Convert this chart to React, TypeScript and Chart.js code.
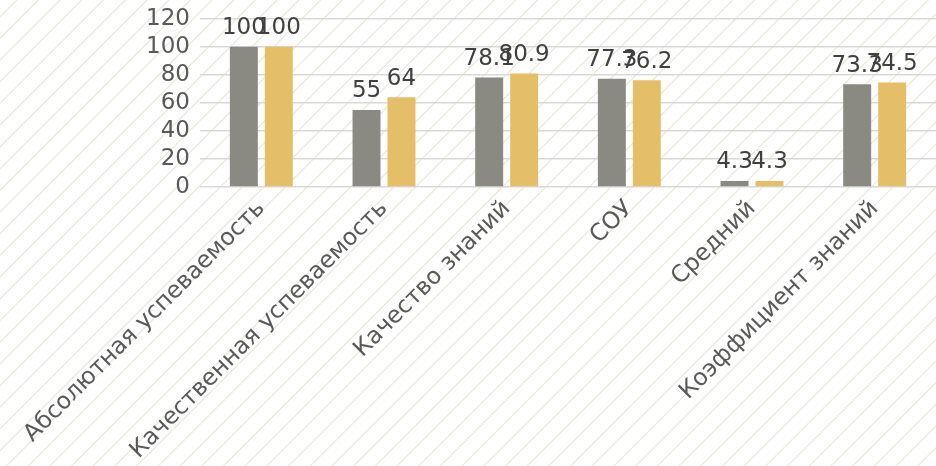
import React, { useEffect, useRef } from "react";
import { Chart, registerables } from "chart.js";

Chart.register(...registerables);

const categories = [
  "Абсолютная успеваемость",
  "Качественная успеваемость",
  "Качество знаний",
  "СОУ",
  "Средний",
  "Коэффициент знаний",
];
const series1 = [100, 55, 78.1, 77.3, 4.3, 73.3];
const series2 = [100, 64, 80.9, 76.2, 4.3, 74.5];
const colors = ["#8a8a83", "#e5be68"];
const FONT = "'DejaVu Sans', sans-serif";

const stripes = {
  id: "stripes",
  beforeDraw(chart: any) {
    const { ctx, width, height } = chart;
    ctx.save();
    ctx.fillStyle = "#ffffff";
    ctx.fillRect(0, 0, width, height);
    ctx.strokeStyle = "#ebe9da";
    ctx.lineWidth = 1.2;
    const step = 21.7;
    ctx.beginPath();
    for (let x = -height; x < width + height; x += step) {
      ctx.moveTo(x, height);
      ctx.lineTo(x + height, 0);
    }
    ctx.stroke();
    ctx.restore();
  },
};

const valueLabels = {
  id: "valueLabels",
  afterDatasetsDraw(chart: any) {
    const { ctx } = chart;
    ctx.save();
    ctx.font = `23px ${FONT}`;
    ctx.fillStyle = "#404040";
    ctx.textAlign = "center";
    ctx.textBaseline = "bottom";
    chart.data.datasets.forEach((ds: any, i: number) => {
      const meta = chart.getDatasetMeta(i);
      meta.data.forEach((bar: any, j: number) => {
        ctx.fillText(String(ds.data[j]), bar.x, bar.y - 7);
      });
    });
    ctx.restore();
  },
};

export default function App() {
  const ref = useRef<HTMLCanvasElement>(null);
  useEffect(() => {
    const chart = new Chart(ref.current!, {
      type: "bar",
      data: {
        labels: categories,
        datasets: [
          { label: "1", data: series1, backgroundColor: colors[0] },
          { label: "2", data: series2, backgroundColor: colors[1] },
        ],
      },
      options: {
        animation: false,
        responsive: false,
        layout: { padding: { top: 7, right: 0, left: 0, bottom: 0 } },
        datasets: {
          bar: { categoryPercentage: 0.57, barPercentage: 0.8 },
        },
        plugins: { legend: { display: false }, tooltip: { enabled: false } },
        scales: {
          x: {
            grid: { display: false },
            border: { display: false },
            ticks: {
              color: "#595959",
              font: { family: FONT, size: 23.5 },
              minRotation: 45,
              maxRotation: 45,
              autoSkip: false,
              padding: 0,
            },
            afterFit: (s: any) => {
              s.height = 284;
            },
          },
          y: {
            min: 0,
            max: 120,
            ticks: {
              stepSize: 20,
              autoSkip: false,
              color: "#595959",
              font: { family: FONT, size: 23 },
              padding: 10,
            },
            grid: { color: "#d9d9d9", lineWidth: 1.5, drawTicks: false },
            border: { display: false },
            afterFit: (s: any) => {
              s.width = 200;
            },
          },
        },
      },
      plugins: [stripes, valueLabels],
    });
    return () => chart.destroy();
  }, []);
  return (
    <div style={{ position: "fixed", left: 0, top: 0, width: 936, height: 466, overflow: "hidden" }}>
      <canvas ref={ref} width={936} height={476} style={{ position: "absolute", left: 0, top: -5 }} />
    </div>
  );
}
